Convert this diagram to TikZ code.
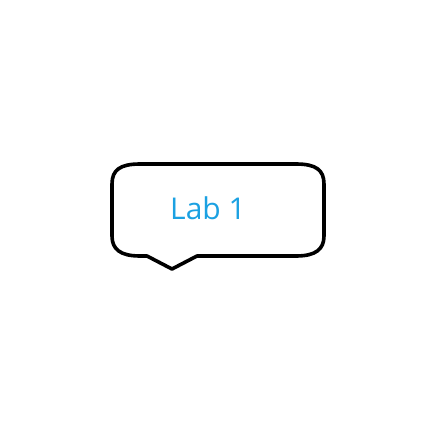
\documentclass[tikz,border=0pt]{standalone}
\usepackage{fontspec}
\setmainfont{Open Sans}
\definecolor{labblue}{RGB}{27,161,226}
\begin{document}
\begin{tikzpicture}[x=1pt,y=-1pt,
  bubble/.style={draw=black,line width=3.6pt,line join=round,fill=white},
  labtext/.style={text=labblue,font=\fontsize{30}{36}\selectfont,inner sep=0pt}]
\useasboundingbox (0,0) rectangle (432,432);
\draw[bubble] (140,164) -- (296,164)
  .. controls (316,164) and (324,170) .. (324,184)
  -- (324,236)
  .. controls (324,249) and (316,256) .. (296,256)
  -- (197,256) -- (172,269) -- (147,256) -- (140,256)
  .. controls (120,256) and (112,249) .. (112,236)
  -- (112,184)
  .. controls (112,170) and (120,164) .. (140,164) -- cycle;
\node[labtext,anchor=base] (lab) at (208,219.5) {Lab 1};
\end{tikzpicture}
\end{document}
